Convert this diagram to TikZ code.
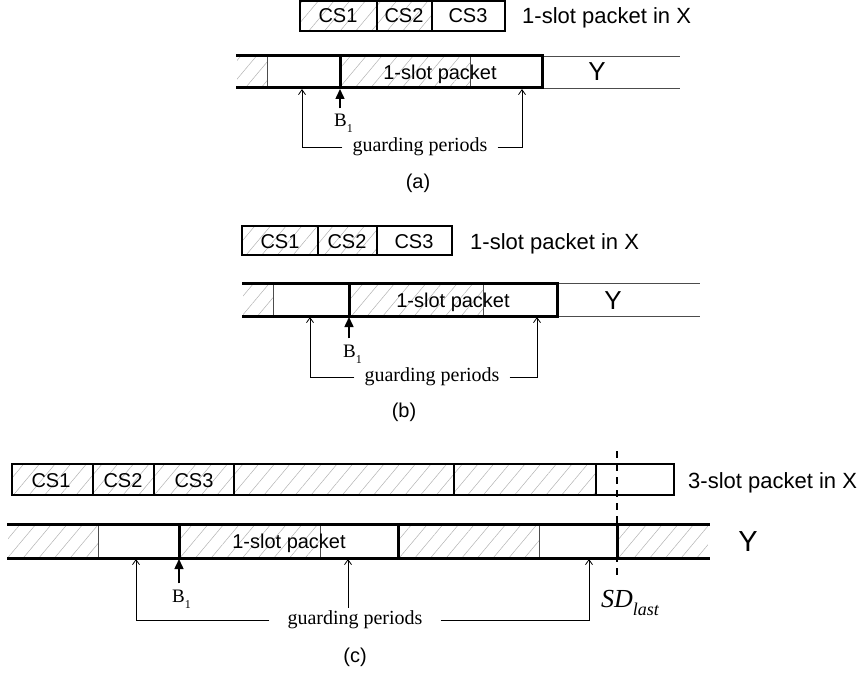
\documentclass[tikz,border=0pt]{standalone}
\usepackage{fontspec}
\setmainfont{Liberation Serif}
\setsansfont{Liberation Sans}
\usetikzlibrary{arrows.meta}
\usetikzlibrary{patterns.meta}

\begin{document}
\begin{tikzpicture}[x=1pt, y=-1pt,
    hatch/.style={pattern={Lines[angle=50, distance=12pt, line width=0.5pt]}, pattern color=black!30},
    xbox/.style={line width=2pt, line cap=rect},
    yrow/.style={line width=3pt, line cap=rect},
    thinrule/.style={line width=0.8pt, black!70},
    sans/.style={font=\sffamily\fontsize{20}{24}\selectfont, inner sep=0pt, anchor=base},
    xlabel/.style={font=\sffamily\fontsize{22}{26}\selectfont, inner sep=0pt, anchor=base west},
    ylabel/.style={font=\sffamily\fontsize{26}{30}\selectfont, inner sep=0pt, anchor=base},
    panel/.style={font=\sffamily\fontsize{20}{24}\selectfont, inner sep=0pt, anchor=base},
    serif/.style={font=\fontsize{20}{24}\selectfont, inner xsep=10pt, inner ysep=3pt},
    bsub/.style={font=\fontsize{19}{22}\selectfont, inner sep=0pt, anchor=base west},
    guard/.style={line width=0.8pt, -{Straight Barb[length=5pt, width=7pt]}},
    bmark/.style={line width=1.5pt, shorten <=6pt, -{Triangle[length=10pt, width=9pt]}}]
  \useasboundingbox (0,0) rectangle (861,679);

  % (a)
  \fill[hatch] (300,1) rectangle (432,31);
  \draw[xbox] (300,1) rectangle (505,31) (377,1) -- (377,31) (432,1) -- (432,31);
  \node[sans] (cs1a) at (338,23) {CS1};
  \node[sans] (cs2a) at (404,23) {CS2};
  \node[sans] (cs3a) at (468,23) {CS3};
  \node[xlabel] (xa) at (522,24) {1-slot packet in X};

  \fill[hatch] (237,56) rectangle (267,88) (340,56) rectangle (470,88);
  \draw[thinrule] (542,56) -- (680,56) (542,88) -- (680,88) (267,56) -- (267,88) (470,56) -- (470,88);
  \draw[yrow] (237,56) -- (542,56) (237,88) -- (542,88) (340,56) -- (340,88) (542,56) -- (542,88);
  \node[sans] (pa) at (440,80) {1-slot packet};
  \node[ylabel] (ya) at (597,81) {Y};

  \coordinate (ga1) at (302,89);
  \coordinate (ga2) at (522,89);
  \coordinate (ba) at (340,89);
  \node[bsub] (b1a) at (334,127) {B\raisebox{-6pt}{\fontsize{12}{12}\selectfont 1}};
  \draw[bmark] (b1a.north -| ba) -- (ba);
  \node[serif] (gpa) at (420,147) {guarding periods};
  \draw[guard] (gpa.west) -| (ga1);
  \draw[guard] (gpa.east) -| (ga2);
  \node[panel] (capa) at (418,188) {(a)};

  % (b)
  \fill[hatch] (242,226) rectangle (377,255);
  \draw[xbox] (242,226) rectangle (452,255) (318,226) -- (318,255) (377,226) -- (377,255);
  \node[sans] (cs1b) at (280,248) {CS1};
  \node[sans] (cs2b) at (347,248) {CS2};
  \node[sans] (cs3b) at (414,248) {CS3};
  \node[xlabel] (xb) at (470,249) {1-slot packet in X};

  \fill[hatch] (243,283) rectangle (273,316) (349,283) rectangle (483,316);
  \draw[thinrule] (557,283) -- (700,283) (557,316) -- (700,316) (273,283) -- (273,316) (483,283) -- (483,316);
  \draw[yrow] (243,283) -- (557,283) (243,316) -- (557,316) (349,283) -- (349,316) (557,283) -- (557,316);
  \node[sans] (pb) at (453,307) {1-slot packet};
  \node[ylabel] (yb) at (613,309) {Y};

  \coordinate (gb1) at (310,317);
  \coordinate (gb2) at (537,317);
  \coordinate (bb) at (349,317);
  \node[bsub] (b1b) at (343,357) {B\raisebox{-6pt}{\fontsize{12}{12}\selectfont 1}};
  \draw[bmark] (b1b.north -| bb) -- (bb);
  \node[serif] (gpb) at (432,377) {guarding periods};
  \draw[guard] (gpb.west) -| (gb1);
  \draw[guard] (gpb.east) -| (gb2);
  \node[panel] (capb) at (404,417) {(b)};

  % (c)
  \fill[hatch] (12,464) rectangle (596,495);
  \draw[xbox] (12,464) rectangle (674,495);
  \foreach \x in {93,154,234,454,596}
    \draw[xbox] (\x,464) -- (\x,495);
  \node[sans] (cs1c) at (51,487) {CS1};
  \node[sans] (cs2c) at (123,487) {CS2};
  \node[sans] (cs3c) at (194,487) {CS3};
  \node[xlabel] (xc) at (688,488) {3-slot packet in X};

  \fill[hatch] (8,524) rectangle (98,558) (179,524) rectangle (320,558)
               (398,524) rectangle (539,558) (617,524) rectangle (708,558);
  \foreach \x in {98,320,539}
    \draw[thinrule] (\x,524) -- (\x,558);
  \draw[yrow] (8,524) -- (708,524) (8,558) -- (708,558);
  \foreach \x in {179,398,617}
    \draw[yrow] (\x,524) -- (\x,558);
  \node[sans] (pc) at (289,548) {1-slot packet};
  \node[ylabel, font=\sffamily\fontsize{29}{33}\selectfont] (yc) at (748,551) {Y};

  \coordinate (sdtop) at (617,451);
  \coordinate (sdbot) at (617,580);
  \draw[line width=1.5pt, dash pattern=on 7pt off 6pt] (sdtop) -- (sdbot);
  \node[inner sep=0pt, anchor=base west] (sd) at (601,607)
    {\fontsize{26}{28}\selectfont\textit{SD}\raisebox{-8pt}{\fontsize{18}{20}\selectfont\textit{last}}};

  \coordinate (gc1) at (136,559);
  \coordinate (gc2) at (348,559);
  \coordinate (gc3) at (589,559);
  \coordinate (bc) at (179,559);
  \node[bsub] (b1c) at (172,602) {B\raisebox{-6pt}{\fontsize{12}{12}\selectfont 1}};
  \draw[bmark] (b1c.north -| bc) -- (bc);
  \node[serif, inner xsep=18pt] (gpc) at (355,620) {guarding periods};
  \draw[guard] (gpc.west) -| (gc1);
  \draw[guard] (gpc.north -| gc2) -- (gc2);
  \draw[guard] (gpc.east) -| (gc3);
  \node[panel] (capc) at (355,662) {(c)};
\end{tikzpicture}
\end{document}
